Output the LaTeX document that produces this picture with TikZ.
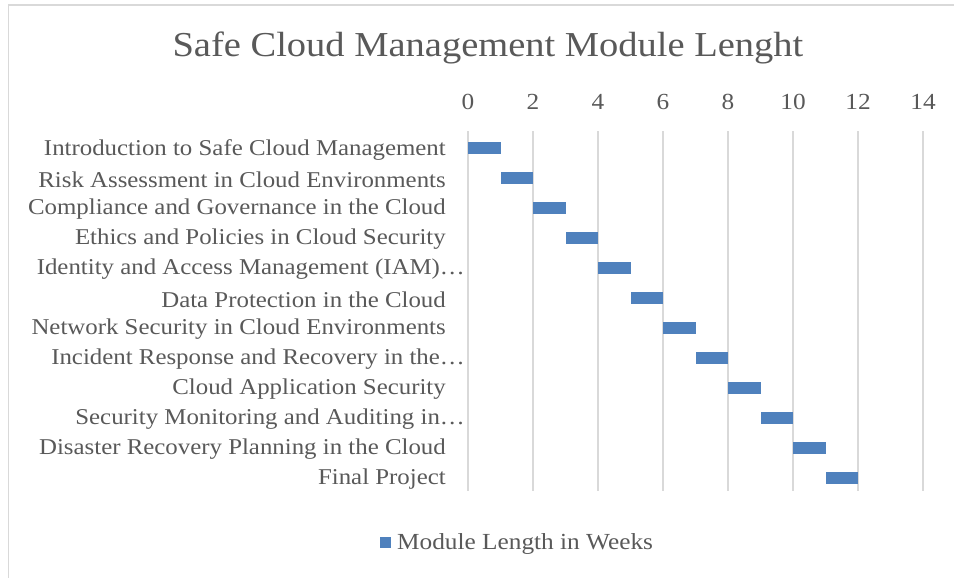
\documentclass[tikz,border=0pt]{standalone}
\usepackage{fontspec}
\setmainfont{Liberation Serif}[FakeStretch=1.1]
\definecolor{txt}{HTML}{595959}
\definecolor{grid}{HTML}{D9D9D9}
\definecolor{barc}{HTML}{4F81BD}
\tikzset{
  lbl/.style={anchor=east, text=txt, font=\fontsize{22.6}{25}\selectfont, inner sep=0pt},
  tick/.style={text=txt, font=\fontsize{23}{25}\selectfont, inner sep=0pt},
  gline/.style={draw=grid, line width=1.5pt},
  barbox/.style={fill=barc, draw=none, minimum height=12pt, inner sep=0pt, outer sep=0pt},
}
\begin{document}
\begin{tikzpicture}[x=1pt,y=-1pt]
\useasboundingbox (0,0) rectangle (954,578);
\fill[white] (0,0) rectangle (954,578);
% frame
\draw[grid, line width=1.2pt] (8.5,578) -- (8.5,5) -- (954,5);
% title
\node[text=txt, font=\fontsize{35}{38}\selectfont, inner sep=0pt] (title) at (488,48) {Safe Cloud Management Module Lenght};
% axis ticks and gridlines
\foreach \k in {0,2,...,14} {
  \node[tick] (t\k) at ({468+32.5*\k},102) {\k};
  \draw[gline] ({468+32.5*\k},131) -- ({468+32.5*\k},491);
}
% labels
\foreach \i/\t/\e in {
  0/{Introduction to Safe Cloud Management}/446,
  1/{Risk Assessment in Cloud Environments}/446,
  2/{Compliance and Governance in the Cloud}/446,
  3/{Ethics and Policies in Cloud Security}/446,
  4/{Identity and Access Management (IAM)…}/465,
  5/{Data Protection in the Cloud}/446,
  6/{Network Security in Cloud Environments}/446,
  7/{Incident Response and Recovery in the…}/465,
  8/{Cloud Application Security}/446,
  9/{Security Monitoring and Auditing in…}/465,
  10/{Disaster Recovery Planning in the Cloud}/446,
  11/{Final Project}/446} {
  \node[lbl] (l\i) at (\e,{149.5+30*\i}) {\t};
  \node[barbox, minimum width=32.5pt] (b\i) at ({468+32.5*(\i+0.5)},{148+30*\i}) {};
}
% legend
\node[fill=barc, minimum width=11pt, minimum height=11pt, inner sep=0pt] (key) at (385.5,542.5) {};
\node[anchor=west, text=txt, font=\fontsize{23}{25}\selectfont, inner sep=0pt] (keytext) at (397,543.5) {Module Length in Weeks};
\end{tikzpicture}
\end{document}
